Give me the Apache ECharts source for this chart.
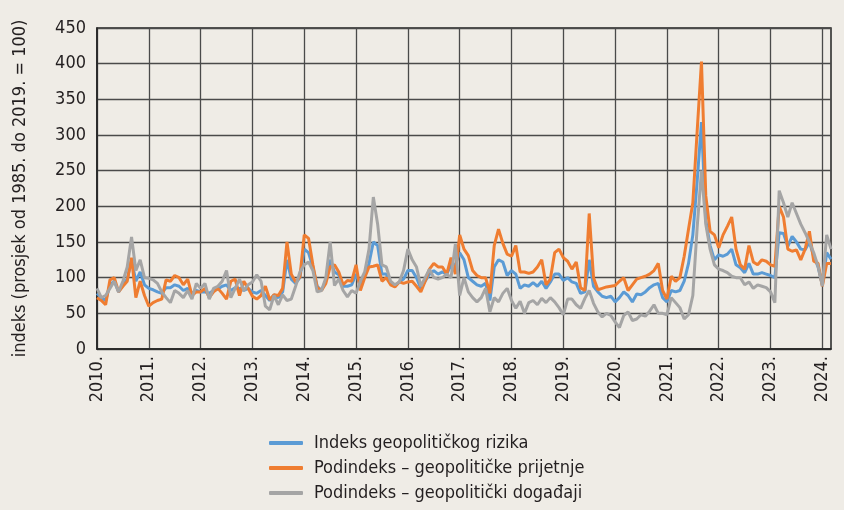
<!DOCTYPE html>
<html>
<head>
<meta charset="utf-8">
<script src="https://cdn.jsdelivr.net/npm/echarts@6/dist/echarts.min.js"></script>
<style>
html,body{margin:0;padding:0;background:#EFECE6;}
#c{width:844px;height:510px;}
</style>
</head>
<body>
<div id="c"></div>
<script>
const tickLabels = ['2010.','2011.','2012.','2013.','2014.','2015.','2016.','2017.','2018.','2019.','2020.','2021.','2022.','2023.','2024.'];
const seriesNames = ['Indeks geopolitičkog rizika','Podindeks – geopolitičke prijetnje','Podindeks – geopolitički događaji'];

const gprIndex = [
 78,72,68,90,95,80,90,98,125,95,108,90,
 85,83,80,78,86,86,90,88,82,85,78,82,
 80,80,78,82,84,88,90,82,86,85,82,85,
 80,78,82,75,68,76,72,80,125,98,92,100,
 140,135,115,88,82,96,125,108,104,88,88,90,
 105,88,102,120,150,145,105,105,92,88,94,98,
 110,110,100,85,95,105,110,105,108,105,118,118,
 135,125,100,95,90,88,92,68,115,125,122,103,
 110,105,85,90,88,93,88,95,85,94,105,105,
 96,100,94,92,78,80,125,88,80,74,72,74,
 66,72,80,75,66,77,76,80,86,90,92,72,
 66,82,80,82,95,120,160,235,318,180,145,125,
 132,130,133,140,118,114,107,120,105,105,107,105,
 103,100,163,162,144,158,150,140,139,150,130,115,
 90,135,126
];
const gprThreats = [
 72,68,62,97,100,80,88,95,128,72,95,75,
 60,65,68,70,97,95,103,100,90,98,75,80,
 80,85,72,80,85,78,70,95,98,75,95,85,
 74,70,75,88,69,76,75,85,150,105,94,101,
 160,155,118,86,82,92,115,118,108,90,96,95,
 118,82,100,115,116,118,95,100,90,87,94,92,
 94,95,88,80,95,112,120,115,115,105,128,105,
 160,140,131,110,103,100,100,78,145,168,148,133,
 130,145,108,108,106,108,115,125,90,98,135,140,
 128,123,112,122,86,82,190,100,83,85,87,88,
 89,95,100,82,90,98,100,102,105,110,120,82,
 70,102,95,100,130,168,205,305,403,215,165,160,
 142,160,172,185,140,118,112,145,122,118,125,123,
 118,116,200,185,140,137,139,125,140,165,123,120,
 88,120,120
];
const gprActs = [
 85,72,75,85,95,80,95,115,157,110,125,100,
 99,97,92,80,72,65,82,78,72,82,70,92,
 85,92,70,85,88,95,110,72,85,98,82,90,
 94,104,95,60,55,75,62,76,68,70,88,108,
 118,122,110,80,82,100,150,89,98,82,73,82,
 78,95,108,140,213,175,118,115,95,90,94,110,
 140,125,115,88,100,112,100,98,100,105,100,147,
 75,100,80,72,66,72,85,52,72,66,78,85,
 68,57,67,50,65,68,62,71,65,72,66,58,
 48,70,70,62,57,71,82,64,52,45,50,47,
 38,30,47,52,40,42,48,46,53,62,50,50,
 48,72,65,58,42,48,75,170,250,175,140,118,
 112,110,107,102,100,100,90,94,85,90,88,86,
 80,65,222,205,185,205,190,175,163,150,135,116,
 88,160,140
];

const months = gprIndex.map((_, i) => (2010 + Math.floor(i / 12)) + '-' + String(i % 12 + 1).padStart(2, '0'));

const FONT = '"Liberation Sans Narrow","DejaVu Sans Condensed","Arial Narrow",sans-serif';
const TXT = '#231F20';
const chart = echarts.init(document.getElementById('c'), null, {renderer: 'canvas'});
chart.setOption({
  backgroundColor: '#EFECE6',
  animation: false,
  textStyle: {fontFamily: FONT},
  grid: {left: 97, right: 13, top: 28, bottom: 161, show: true, borderColor: '#222', borderWidth: 1.5, backgroundColor: 'transparent'},
  legend: {
    orient: 'vertical', left: 264, top: 429, itemWidth: 34, itemHeight: 4, itemGap: 7,
    icon: 'roundRect',
    textStyle: {fontFamily: FONT, fontSize: 18, color: TXT, lineHeight: 18, padding: [0, 0, 0, 6]},
    data: seriesNames
  },
  xAxis: {
    type: 'category', data: months, boundaryGap: false,
    axisLine: {show: true, lineStyle: {color: '#222', width: 1.5}},
    axisTick: {show: false},
    axisLabel: {interval: 11, rotate: 90, margin: 7, fontFamily: FONT, fontSize: 18, color: TXT,
      formatter: (v, idx) => idx % 12 === 0 ? tickLabels[idx / 12] : ''},
    splitLine: {show: true, interval: 11, lineStyle: {color: '#4a4a4a', width: 1.3}}
  },
  yAxis: {
    type: 'value', min: 0, max: 450, interval: 50,
    name: 'indeks (prosjek od 1985. do 2019. = 100)', nameLocation: 'middle', nameGap: 68,
    nameTextStyle: {fontFamily: FONT, fontSize: 18, color: TXT},
    axisLine: {show: true, lineStyle: {color: '#222', width: 1.5}},
    axisTick: {show: false},
    axisLabel: {margin: 11, fontFamily: FONT, fontSize: 18, color: TXT},
    splitLine: {show: true, lineStyle: {color: '#4a4a4a', width: 1.3}}
  },
  series: [
    {name: seriesNames[0], type: 'line', data: gprIndex, symbol: 'none', lineStyle: {width: 3, color: '#5B9BD5'}, itemStyle: {color: '#5B9BD5'}, z: 2},
    {name: seriesNames[1], type: 'line', data: gprThreats, symbol: 'none', lineStyle: {width: 3, color: '#EF7D31'}, itemStyle: {color: '#EF7D31'}, z: 3},
    {name: seriesNames[2], type: 'line', data: gprActs, symbol: 'none', lineStyle: {width: 3, color: '#A5A5A5'}, itemStyle: {color: '#A5A5A5'}, z: 4}
  ]
});
</script>
</body>
</html>
